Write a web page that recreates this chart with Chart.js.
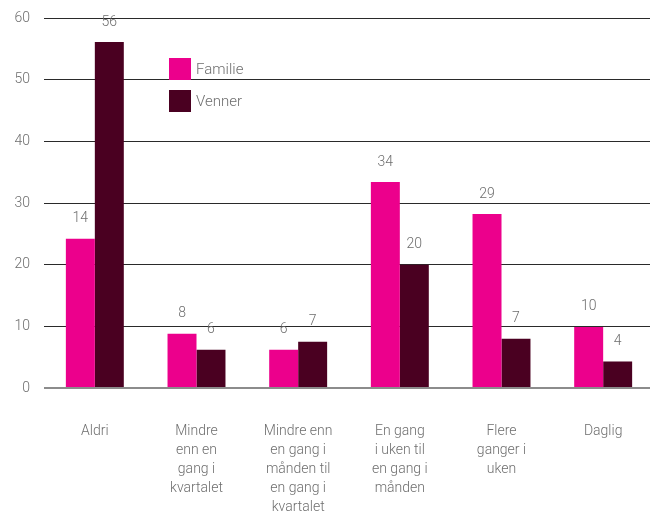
<!DOCTYPE html>
<html lang="no">
<head>
    <meta charset="UTF-8">
    <title>Kontakt med familie og venner</title>
    <style>
        html, body { margin: 0; padding: 0; background: #fff; overflow: hidden; }
        .wrap { position: relative; width: 654px; height: 530px; }
    </style>
</head>
<body>
<div class="wrap">
    <canvas id="kontaktChart"></canvas>
</div>
<script src="https://cdn.jsdelivr.net/npm/chart.js"></script>
<script>
// kategorier (x-akse)
const categories = [
    ['Aldri'],
    ['Mindre', 'enn en', 'gang i', 'kvartalet'],
    ['Mindre enn', 'en gang i', 'månden til', 'en gang i', 'kvartalet'],
    ['En gang', 'i uken til', 'en gang i', 'månden'],
    ['Flere', 'ganger i', 'uken'],
    ['Daglig']
];
const seriesNames = ['Familie', 'Venner'];

// søylehøyder slik de er tegnet
const familieValues = [24.2, 8.8, 6.2, 33.4, 28.2, 9.9];
const vennerValues = [56.1, 6.2, 7.5, 20, 8, 4.3];

// tallene som står over søylene
const familieLabels = ['14', '8', '6', '34', '29', '10'];
const vennerLabels = ['56', '6', '7', '20', '7', '4'];

// y-akse
const yTicks = [0, 10, 20, 30, 40, 50, 60];

const FONT = 'Roboto, "DejaVu Sans", sans-serif';
const TEXT = '#6e6e6e';

// tall over søylene
const valueLabels = {
    id: 'valueLabels',
    afterDatasetsDraw(chart) {
        const ctx = chart.ctx;
        const lists = [familieLabels, vennerLabels];
        ctx.save();
        ctx.font = '300 14px ' + FONT;
        ctx.fillStyle = TEXT;
        ctx.textAlign = 'center';
        ctx.textBaseline = 'middle';
        chart.data.datasets.forEach((ds, i) => {
            chart.getDatasetMeta(i).data.forEach((bar, j) => {
                ctx.fillText(lists[i][j], bar.x, bar.y - 20);
            });
        });
        ctx.restore();
    }
};

// forklaring inne i plottet
const insideLegend = {
    id: 'insideLegend',
    afterDraw(chart) {
        const ctx = chart.ctx;
        const x = 169, y = 58;
        ctx.save();
        ctx.font = '300 15px ' + FONT;
        ctx.textBaseline = 'middle';
        chart.data.datasets.forEach((ds, i) => {
            const top = y + i * 32;
            ctx.fillStyle = ds.backgroundColor;
            ctx.fillRect(x, top, 22, 22);
            ctx.fillStyle = TEXT;
            ctx.fillText(ds.label, x + 27, top + 12);
        });
        ctx.restore();
    }
};

new Chart(document.getElementById('kontaktChart'), {
    type: 'bar',
    data: {
        labels: categories,
        datasets: [
            { label: seriesNames[0], data: familieValues, backgroundColor: '#ec008c' },
            { label: seriesNames[1], data: vennerValues, backgroundColor: '#4a0021' }
        ]
    },
    options: {
        responsive: true,
        maintainAspectRatio: false,
        animation: false,
        layout: { padding: { top: 18, left: 0, right: 0, bottom: 0 } },
        plugins: {
            legend: { display: false },
            tooltip: { enabled: false }
        },
        datasets: {
            bar: { categoryPercentage: 0.57, barPercentage: 1 }
        },
        scales: {
            x: {
                grid: { display: false },
                border: { display: false },
                ticks: {
                    color: TEXT,
                    font: { family: FONT, size: 14, weight: 300, lineHeight: 1.36 },
                    padding: 26,
                    maxRotation: 0,
                    autoSkip: false
                },
                afterFit(scale) { scale.height = 530 - 388; }
            },
            y: {
                min: 0,
                max: 60,
                afterBuildTicks(scale) { scale.ticks = yTicks.map(v => ({ value: v })); },
                grid: {
                    drawTicks: false,
                    color: ctx => ctx.tick && ctx.tick.value === 0 ? '#8c8c8c' : '#2a2a2a',
                    lineWidth: ctx => ctx.tick && ctx.tick.value === 0 ? 2 : 1
                },
                border: { display: false },
                ticks: {
                    color: TEXT,
                    font: { family: FONT, size: 14, weight: 300 },
                    padding: 14
                },
                afterFit(scale) {
                    scale.width = 44;
                    scale.paddingTop = 0;
                    scale.paddingBottom = 0;
                }
            }
        }
    },
    plugins: [valueLabels, insideLegend]
});
</script>
</body>
</html>
